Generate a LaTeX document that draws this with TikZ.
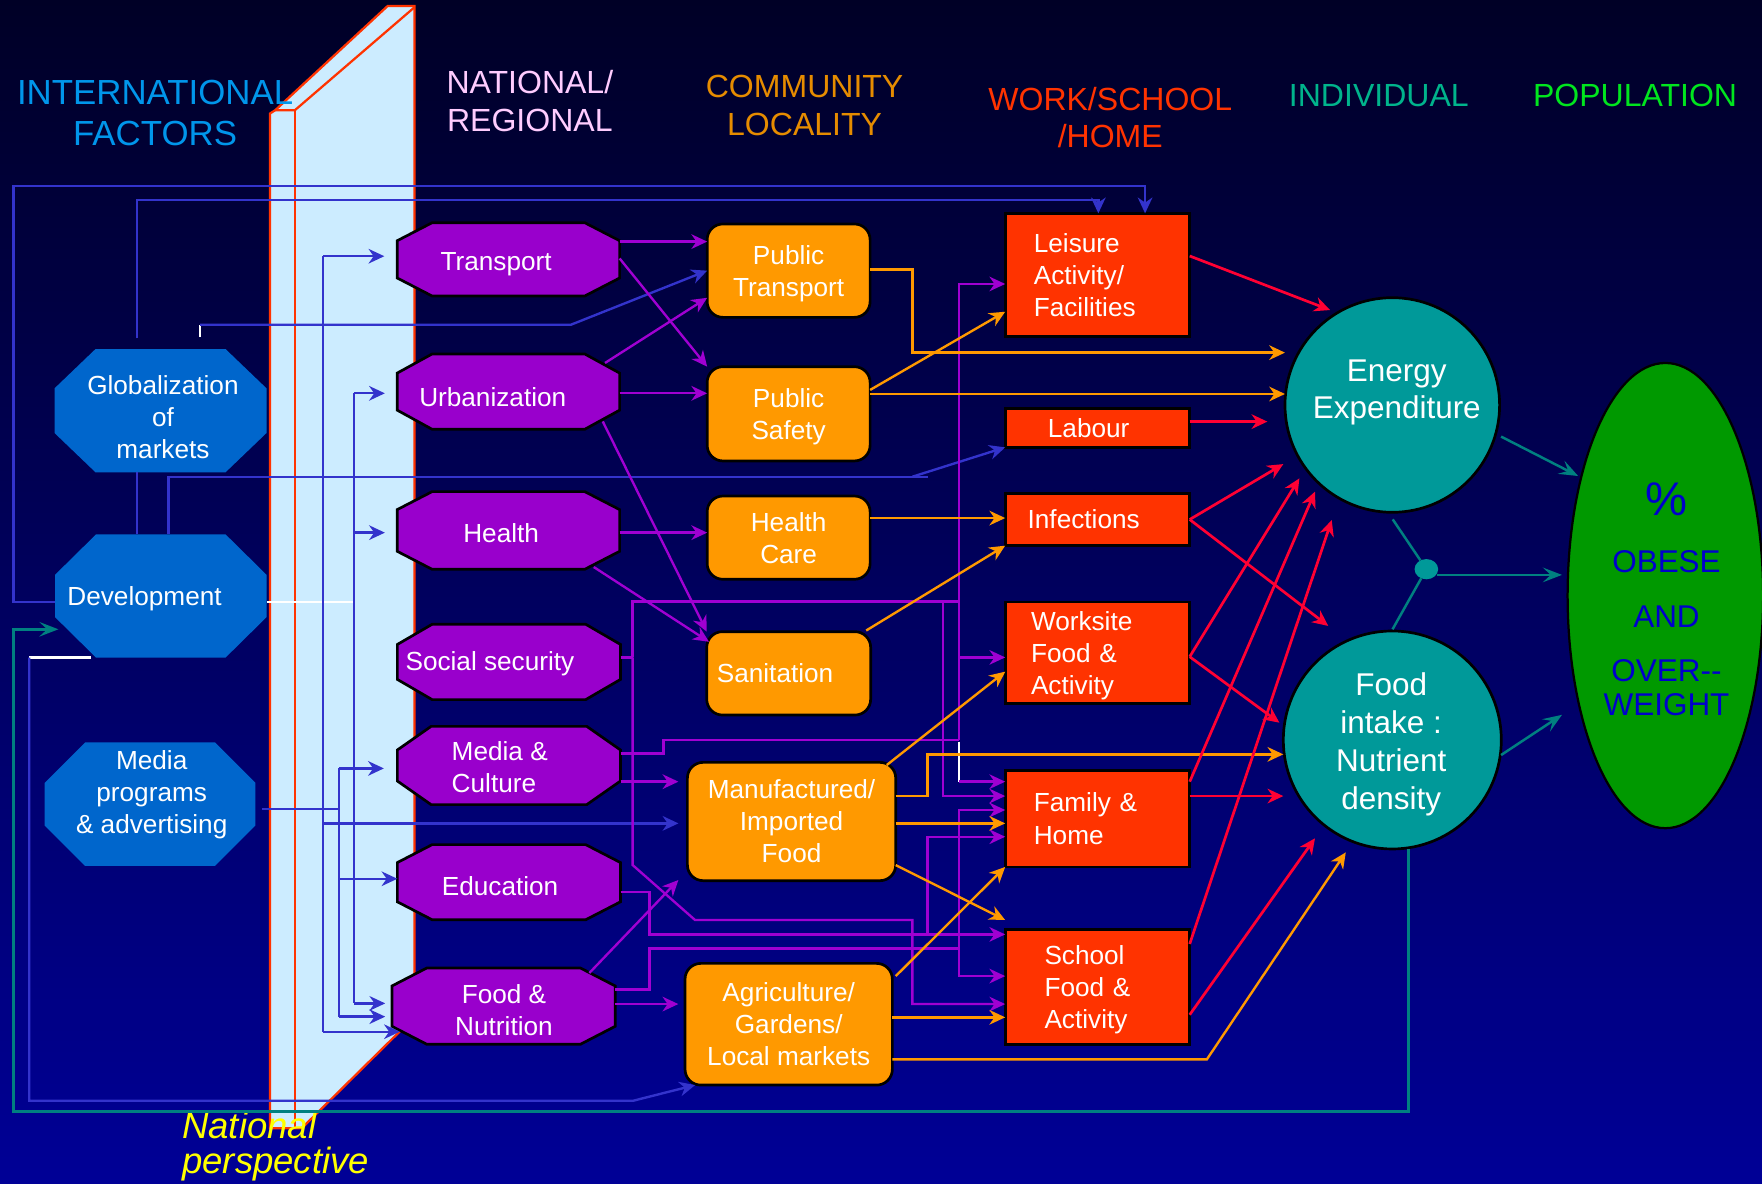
\documentclass[tikz,border=0pt]{standalone}
\usepackage{fontspec}
\setmainfont{Liberation Sans}
\usetikzlibrary{arrows.meta,shapes.geometric,calc}
\definecolor{bgtop}{RGB}{0,0,38}
\definecolor{bgbot}{RGB}{0,0,150}
\definecolor{intl}{RGB}{0,102,204}
\definecolor{natf}{RGB}{153,0,204}
\definecolor{comf}{RGB}{255,153,0}
\definecolor{workf}{RGB}{255,51,0}
\definecolor{indf}{RGB}{0,153,153}
\definecolor{popf}{RGB}{0,153,0}
\definecolor{lblue}{RGB}{51,51,204}
\definecolor{lpurp}{RGB}{160,0,210}
\definecolor{lorng}{RGB}{255,153,0}
\definecolor{lred}{RGB}{255,0,51}
\definecolor{lteal}{RGB}{0,128,128}
\definecolor{slabc}{RGB}{204,236,255}
\definecolor{slabedge}{RGB}{255,51,0}
\definecolor{hintl}{RGB}{0,150,235}
\definecolor{hnat}{RGB}{255,204,255}
\definecolor{hcom}{RGB}{230,140,0}
\definecolor{hwork}{RGB}{255,51,0}
\definecolor{hind}{RGB}{0,180,140}
\definecolor{hpop}{RGB}{0,230,30}
\definecolor{poptext}{RGB}{0,0,204}
\definecolor{natyel}{RGB}{255,255,0}
\newcommand\octpath[7]{\path[#1] (#2+#6,#3) -- (#4-#6,#3) -- (#4,#3+#7) -- (#4,#5-#7) -- (#4-#6,#5) -- (#2+#6,#5) -- (#2,#5-#7) -- (#2,#3+#7) -- cycle;}
\newcommand\nodep[1]{\raisebox{0pt}[\height][0pt]{#1}}
\tikzset{
  anch/.style={rectangle, draw=none, inner sep=0pt, outer sep=0pt},
  tx/.style={text=white, font=\fontsize{23.3}{28.5}\selectfont, align=center, inner sep=0pt, outer sep=0pt},
  hd/.style={font=\fontsize{28.5}{34}\selectfont, align=center, inner sep=0pt},
  combox/.style={rectangle, rounded corners=14pt, fill=comf, draw=black, line width=2.4pt, inner sep=0pt, outer sep=0pt, text=white, font=\fontsize{23.3}{28.5}\selectfont, align=center},
  workbox/.style={rectangle, fill=workf, draw=black, line width=2.4pt, inner ysep=0pt, outer sep=0pt, text=white, font=\fontsize{23.3}{28.5}\selectfont, align=left},
  natoct/.style={fill=natf, draw=black, line width=2.4pt, line join=miter},
  indc/.style={circle, fill=indf, draw=black, line width=2.4pt, inner sep=0pt, outer sep=0pt},
  ar/.style={-{Stealth[length=14pt,width=13pt,inset=4.5pt]}},
  arT/.style={-{Stealth[length=17pt,width=13pt,inset=7pt]}},
  cb/.style={draw=lblue, line width=2.1pt},
  cp/.style={draw=lpurp, line width=2.1pt},
  co/.style={draw=lorng, line width=2.1pt},
  cr/.style={draw=lred, line width=2.4pt},
  ct/.style={draw=lteal, line width=2.2pt},
  cw/.style={draw=white, line width=2pt},
}
\begin{document}
\begin{tikzpicture}[x=1pt,y=-1pt]
\useasboundingbox (0,0) rectangle (1568,1053);
\shade[top color=bgtop,bottom color=bgbot] (0,0) rectangle (1568,1053);

% ---------- slab (national perspective) ----------
\path[fill=slabc] (240.3,101) -- (245,98) -- (345,5.3) -- (368.8,5.3) -- (368.8,905) -- (268.5,1004) -- (240.3,1004) -- cycle;
\draw[slabedge, line width=2pt, line join=miter] (240.3,1004) -- (240.3,101) -- (245,98) -- (345,5.3) -- (368.8,5.3) -- (368.8,905) -- (268.5,1004) -- cycle;
\draw[slabedge, line width=2pt] (245,98) -- (262.5,98) -- (368.8,6.5);
\draw[slabedge, line width=2pt] (262.5,98) -- (262.5,1004);

% ---------- headers ----------
\node[hd, text=hintl, font=\fontsize{31}{37}\selectfont] (hInt) at (138,100.5) {INTERNATIONAL\\FACTORS};
\node[hd, text=hnat] (hNat) at (471.5,90) {NATIONAL/\\REGIONAL};
\node[hd, text=hcom] (hCom) at (716,94) {COMMUNITY\\LOCALITY};
\node[hd, text=hwork, font=\fontsize{28.5}{33}\selectfont] (hWork) at (988,104.5) {WORK/SCHOOL\\/HOME};
\node[hd, text=hind] (hInd) at (1227,85) {INDIVIDUAL};
\node[hd, text=hpop] (hPop) at (1455,85) {POPULATION};

% ---------- international octagons ----------
\octpath{fill=intl}{48.5}{310.6}{237.2}{420.3}{36.5}{35}
\node[anch, minimum width=188.7, minimum height=109.7] (glob) at (142.85,365.45) {};
\node[tx] (globT) at (145,371.5) {Globalization\\of\\markets};
\octpath{fill=intl}{49}{475.5}{237.2}{585.2}{36.5}{36}
\node[anch, minimum width=188.2, minimum height=109.7] (dev) at (143.1,530.35) {};
\node[tx, anchor=west] (devT) at (60,533) {Development};
\octpath{fill=intl}{39.7}{660.7}{227.3}{770.5}{36}{36}
\node[anch, minimum width=187.6, minimum height=109.8] (mediaprog) at (133.5,715.6) {};
\node[tx] (mediaprogT) at (135,707) {Media\\programs\\\& advertising};

% ---------- national octagons ----------
\octpath{natoct}{353.5}{198.2}{551.4}{263.4}{31}{16}
\node[anch, minimum width=197.9, minimum height=65.2] (transport) at (452.45,230.8) {};
\node[tx] (transportT) at (441.5,235) {Transport};
\octpath{natoct}{353.5}{315}{551.4}{382}{31}{17}
\node[anch, minimum width=197.9, minimum height=67] (urban) at (452.45,348.5) {};
\node[tx] (urbanT) at (438.5,353) {Urbanization};
\octpath{natoct}{353.5}{437.5}{551.4}{506.6}{31}{16}
\node[anch, minimum width=197.9, minimum height=69.1] (health) at (452.45,472.05) {};
\node[tx] (healthT) at (446,474) {Health};
\octpath{natoct}{353.6}{555.5}{552.2}{622.6}{31}{18}
\node[anch, minimum width=198.6, minimum height=67.1] (socsec) at (452.9,589.05) {};
\node[tx] (socsecT) at (436,591) {Social security};
\octpath{natoct}{353.6}{646.4}{552.2}{716}{30}{21}
\node[anch, minimum width=198.6, minimum height=69.6] (mediacult) at (452.9,681.2) {};
\node[tx, align=left, anchor=west] (mediacultT) at (402,683) {Media \&\\Culture};
\octpath{natoct}{353.6}{751.6}{552.2}{818.5}{31}{16}
\node[anch, minimum width=198.6, minimum height=66.9] (educ) at (452.9,785.05) {};
\node[tx] (educT) at (445,789) {Education};
\octpath{natoct}{348.8}{861.4}{547.5}{929.3}{31}{16}
\node[anch, minimum width=198.7, minimum height=67.9] (foodnut) at (448.15,895.35) {};
\node[tx] (foodnutT) at (448.5,899) {Food \&\\Nutrition};

% ---------- community boxes ----------
\node[combox, minimum width=145, minimum height=83.1] (pubtrans) at (701.8,240.85) {Public\\\nodep{Transport}};
\node[combox, minimum width=145, minimum height=83.9] (pubsafety) at (701.8,368.25) {Public\\\nodep{Safety}};
\node[combox, minimum width=145, minimum height=74.1] (healthcare) at (701.8,478.45) {Health\\Care};
\node[combox, minimum width=145.9, minimum height=74.2, align=left, inner xsep=9pt, text width=127.9pt] (sanitation) at (701.85,599.2) {Sanitation};
\node[combox, minimum width=185.4, minimum height=105.3] (manuf) at (704.4,731.05) {Manufactured/\\Imported\\Food};
\node[combox, minimum width=184.5, minimum height=108.3] (agri) at (701.85,911.45) {Agriculture/\\Gardens/\\Local markets};

% ---------- work / school / home boxes ----------
\node[workbox, minimum width=164.2, minimum height=109.8, inner xsep=25.5pt, text width=113.2pt] (leisure) at (976.6,244.7) {Leisure\\Activity/\\Facilities};
\node[workbox, minimum width=164.2, minimum height=34.7, inner xsep=38pt, text width=88.2pt] (labour) at (976.6,380.75) {Labour};
\node[workbox, minimum width=164.2, minimum height=46.6, inner xsep=20pt, text width=124.2pt] (infections) at (976.6,462.3) {Infections};
\node[workbox, minimum width=164.2, minimum height=90.3, inner xsep=23pt, text width=118.2pt] (worksite) at (976.6,580.75) {Worksite\\Food \&\\\nodep{Activity}};
\node[workbox, minimum width=164.2, minimum height=86, inner xsep=25.5pt, text width=113.2pt] (family) at (976.6,728.5) {Family \&\\Home};
\node[workbox, minimum width=164.2, minimum height=101.9, inner xsep=35pt, text width=94.2pt] (school) at (976.6,878.35) {School\\Food \&\\\nodep{Activity}};

% ---------- individual circles ----------
\node[indc, minimum size=191] (energy) at (1239,360.4) {};
\node[text=white, font=\fontsize{28}{33}\selectfont, align=center, inner sep=0pt] (energyT) at (1243,349) {Energy\\Expenditure};
\node[indc, minimum size=194] (foodint) at (1239,658.5) {};
\node[text=white, font=\fontsize{28}{34}\selectfont, align=center, inner sep=0pt] (foodintT) at (1238,662.5) {Food\\intake :\\Nutrient\\density};

% ---------- population ----------
\node[ellipse, fill=popf, draw=black, line width=2pt, minimum width=174, minimum height=414, inner sep=0pt, outer sep=0pt] (pop) at (1482,530) {};
\node[text=poptext, font=\fontsize{42}{42}\selectfont, inner sep=0pt] (popPct) at (1483,444) {\%};
\node[text=poptext, font=\fontsize{28}{28}\selectfont, inner sep=0pt] (popObese) at (1483,500) {OBESE};
\node[text=poptext, font=\fontsize{28}{28}\selectfont, inner sep=0pt] (popAnd) at (1483,549) {AND};
\node[text=poptext, font=\fontsize{28}{28}\selectfont, inner sep=0pt] (popOver) at (1483,597) {OVER-{}-};
\node[text=poptext, font=\fontsize{28}{28}\selectfont, inner sep=0pt] (popWeight) at (1483,627) {WEIGHT};

% ---------- national perspective label ----------
\node[anchor=base west, text=natyel, font=\fontsize{32.5}{32.5}\selectfont\itshape, inner sep=0pt] (natp1) at (162,1013) {National};
\node[anchor=base west, text=natyel, font=\fontsize{32.5}{32.5}\selectfont\itshape, inner sep=0pt] (natp2) at (162,1044) {perspective};

% ================= connectors =================
% --- blue (international) ---
\draw[cb,ar] (dev.west |- 0,535.5) -| (12,165.5) -| (1019,0 |- leisure.north);
\coordinate (globtop) at (122,301);
\draw[cb,ar] (globtop) |- (977.4,178) -- (977.4,0 |- leisure.north);
\coordinate (gtick) at (178,300);
\draw[cw] (gtick) -- (178,289);
\draw[cb,ar] (178,289) -- (508,289) -- (pubtrans.west);
\draw[cb] (glob.south -| 122,0) -- (dev.north -| 122,0);
\draw[cb] (dev.north -| 150,0) |- (826,424.2);
\draw[cb,ar] (812,424.2) -- (labour.south west);
\draw[cw] (dev.east |- 0,536) -- (315.3,536);
\draw[cb] (315.3,350) -- (315.3,892.9);
\draw[cb,ar,shorten >=11pt] (315.3,350) -- (urban.west |- 0,350);
\draw[cb,ar,shorten >=11pt] (315.3,474) -- (health.west |- 0,474);
\draw[cb,ar,shorten >=6pt] (315.3,892.9) -- (foodnut.west |- 0,892.9);
\draw[cb] (287.7,228) -- (287.7,918.1);
\draw[cb,ar,shorten >=11.5pt] (287.7,228) -- (transport.west |- 0,228);
\draw[cb,ar] (287.7,918.1) -- ($(foodnut.west |- 0,918.1)+(7,0)$);
\draw[cb,ar,shorten >=8pt] (287.7,732.7) -- (manuf.west |- 0,732.7);
\draw[cb,shorten <=6pt] (mediaprog.east |- 0,720) -- (301.7,720);
\draw[cb] (301.7,683.8) -- (301.7,904.7);
\draw[cb,ar,shorten >=12pt] (301.7,683.8) -- (mediacult.west |- 0,683.8);
\draw[cb,ar] (301.7,782) -- (educ.west |- 0,782);
\draw[cb,ar,shorten >=6pt] (301.7,904.7) -- (foodnut.west |- 0,904.7);
\coordinate (devbot) at (81,585.2);
\draw[cw] (devbot) -- (26,585.2);
\draw[cb,ar] (26,585.2) |- (563.6,979.5) -- ($(agri.south west)+(9,0)$);

% --- purple (national) ---
\draw[cp,ar] (transport.east |- 0,215) -- (pubtrans.west |- 0,215);
\draw[cp,ar] (transport.east |- 0,230) -- (pubsafety.north west);
\draw[cp,ar] ($(urban.north east)+(-13,8)$) -- (pubtrans.west |- 0,265);
\draw[cp,ar] (urban.east |- 0,350) -- (pubsafety.west |- 0,350);
\draw[cp,ar] ($(urban.south east)+(-15,-7)$) -- (sanitation.north west);
\draw[cp,ar] (health.east |- 0,474) -- (healthcare.west |- 0,474);
\draw[cp,ar] ($(health.south east)+(-23,-2)$) -- ($(sanitation.north west)+(2,9)$);
% social security
\draw[cp] (socsec.east |- 0,585) -- (563,585);
\draw[cp,ar] (563,585) -- (563,769.8) -- (618.5,818.7) -| (811.9,893.5) -- (school.west |- 0,893.5);
\draw[cp,ar] (563,585) |- (853.4,535.4) |- (leisure.west |- 0,252.7);
\draw[cp,ar] (839.3,535.4) |- (family.west |- 0,708.4);
\draw[cp] (853.4,535.4) -- (853.4,658.5);
\draw[cp,ar] (853.4,585) -- (worksite.west |- 0,585);
% media & culture
\draw[cp] (mediacult.east |- 0,670.4) -| (590.3,658.5) -- (853.4,658.5);
\draw[cw] (853.4,660) -- (853.4,695.6);
\draw[cp,ar] (853.4,695.6) -- (family.west |- 0,695.6);
\draw[cp,ar,shorten >=8pt] (mediacult.east |- 0,695.6) -- (manuf.west |- 0,695.6);
% education
\draw[cp,ar] (educ.east |- 0,794) -| (577.9,831.5) -- (school.west |- 0,831.5);
\draw[cp,ar] (825.5,831.5) |- (family.west |- 0,744.6);
% food & nutrition
\draw[cp] (foodnut.east |- 0,880.4) -| (577.9,843.9) -- (853.4,843.9);
\draw[cp,ar] (853.4,843.9) |- (family.west |- 0,720.8);
\draw[cp,ar] (853.4,843.9) |- (school.west |- 0,868.6);
\draw[cp,ar,shorten >=6pt] (foodnut.east |- 0,893.5) -- (agri.west |- 0,893.5);
\draw[cp,ar] ($(foodnut.north east)+(-23,4.4)$) -- ($(manuf.south west)+(-8,-0.6)$);

% --- orange (community) ---
\draw[co,ar] (pubtrans.east |- 0,239.7) -| (811.9,313.8) -- (energy.west |- 0,313.8);
\draw[co,ar] (pubsafety.east |- 0,347) -- (leisure.west |- 0,277.4);
\draw[co,ar] (pubsafety.east |- 0,350.6) -- (energy.west |- 0,350.6);
\draw[co,ar] (healthcare.east |- 0,461) -- (infections.west |- 0,461);
\draw[co,ar] ($(sanitation.north east)+(-4,-1)$) -- (infections.south west);
\draw[co,ar] ($(manuf.north east)+(-8,2.4)$) -- (worksite.west |- 0,597.7);
\draw[co,ar] (manuf.east |- 0,708.4) -| (825.5,671.3) -- (foodint.west |- 0,671.3);
\draw[co,ar] (manuf.east |- 0,732.7) -- (family.west |- 0,732.7);
\draw[co,ar] (manuf.east |- 0,769.8) -- (school.west |- 0,818.7);
\draw[co,ar] ($(agri.east |- 0,868.6)+(3,0)$) -- (family.south west);
\draw[co,ar] (agri.east |- 0,905.3) -- (school.west |- 0,905.3);
\draw[co,ar] (agri.east |- 0,942.7) -- (1074,942.7) -- ($(foodint.center)+(-41.4,100)$);

% --- red (work/school/home) ---
\draw[cr,ar] (leisure.east |- 0,227.8) -- ($(energy.center)+(-55.4,-84.5)$);
\draw[cr,ar] (labour.east |- 0,375.2) -- ($(energy.center)+(-111.2,14.8)$);
\draw[cr,ar] (infections.east) -- ($(energy.center)+(-97,52.6)$);
\draw[cr,ar] (infections.east) -- ($(foodint.center)+(-57,-101.5)$);
\draw[cr,ar] (worksite.east |- 0,584.4) -- ($(energy.center)+(-82.7,65.3)$);
\draw[cr,ar] (worksite.east |- 0,584.4) -- ($(foodint.center)+(-100.5,-15.4)$);
\draw[cr,ar] (family.east |- 0,695.6) -- ($(energy.center)+(-68.8,77.1)$);
\draw[cr,ar] (family.east |- 0,708.4) -- (foodint.west |- 0,708.4);
\draw[cr,ar] (school.east |- 0,840) -- ($(energy.center)+(-53.9,102.4)$);
\draw[cr,ar] (school.east |- 0,903) -- ($(foodint.center)+(-68.8,87.5)$);

% --- teal (individual) ---
\node[ellipse, fill=indf, minimum width=21, minimum height=18, inner sep=0pt, outer sep=0pt] (dot) at (1269.3,506.5) {};
\draw[ct] ($(energy.center)+(0.4,101.8)$) -- (dot);
\draw[ct] (dot) -- ($(foodint.center)+(0.2,-98.5)$);
\draw[ct,arT] ($(dot.east |- 0,511.6)+(-1,0)$) -- ($(pop.center)+(-92,-18.4)$);
\draw[ct,arT] ($(energy.center)+(96.8,28.1)$) -- ($(pop.center)+(-77.6,-106.4)$);
\draw[ct,arT] ($(foodint.center)+(96.8,13.4)$) -- ($(pop.center)+(-92,106.1)$);
\draw[ct,arT] ($(foodint.center)+(14.3,97)$) -- (1253.3,989.3) -| (12,560) -- ($(dev.west |- 0,560)+(3,0)$);
\end{tikzpicture}
\end{document}
